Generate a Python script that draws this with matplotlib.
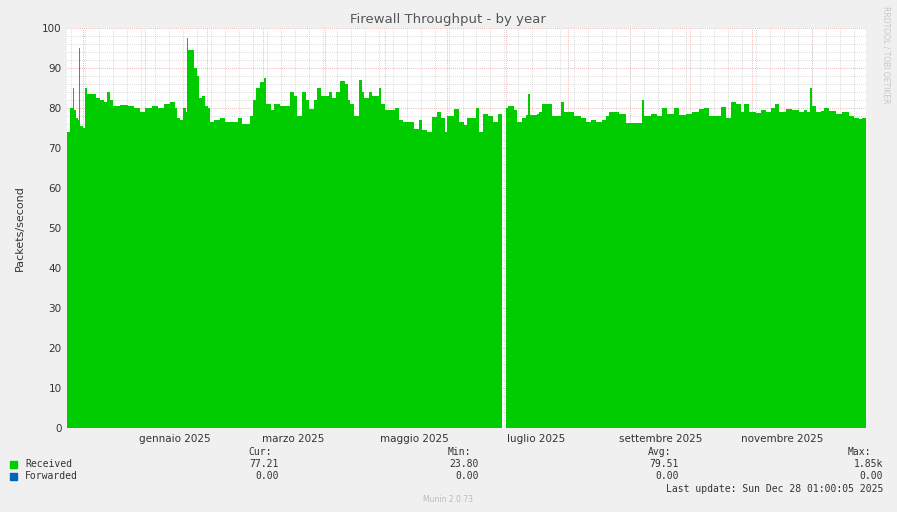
import numpy as np
import matplotlib
matplotlib.use("Agg")
import matplotlib.pyplot as plt
import matplotlib.dates as mdates
from datetime import datetime, timedelta

# days since 2024-11-23 and received packets/second
start = datetime(2024, 11, 23)
days = [0, 1.5, 3, 3.5, 4.5, 5.5, 6, 6.5, 8, 9, 10, 12.5, 14.5, 16.5, 18.5, 20, 21.5, 23, 26.5, 30.5,
        33.5, 36.5, 39, 42.5, 45.5, 48.5, 51.5, 54, 55, 56.5, 58, 59.5, 60, 60.5, 62.5, 63.5, 65, 66, 67.5, 69,
        70.5, 71.5, 73.5, 76.5, 79, 82.5, 85.5, 87.5, 90, 91.5, 93, 94.5, 96.5, 98.5, 99.5, 102, 103.5, 106.5, 110, 111.5,
        113.5, 115, 117.5, 119.5, 121, 123.5, 125, 127, 129.5, 131, 132.5, 134.5, 136.5, 139, 140.5, 141.5, 143.5, 146, 147.5, 148.5,
        151, 152.5, 153.5, 156, 157, 159, 164, 166, 168, 171.5, 173.5, 176, 177.5, 180, 182.5, 185, 187, 189, 190, 193.5,
        196, 198.5, 200, 204, 205, 206.5, 208.5, 211, 213.5, 216, 218, 218.5, 220, 221, 222.5, 224, 225.5, 228, 230, 231,
        232, 235.5, 236.5, 238, 241.5, 243, 246.5, 247.5, 249, 251.5, 254, 257.5, 260, 262.5, 265, 268, 270, 271.5, 274, 276.5,
        280, 285.5, 288, 289, 292.5, 295.5, 298, 300.5, 304, 306.5, 310, 313, 316.5, 319, 321.5, 325, 327.5, 327.5, 330, 332.5,
        335, 337.5, 339, 341.5, 345, 347.5, 350, 352.5, 354.5, 356.5, 360, 363, 366.5, 369, 370.5, 372, 373, 375, 377.5, 379,
        381.5, 385, 388, 391.5, 394, 396.5, 398, 399.5]
received = [74, 80, 85, 79.5, 77.5, 77, 95, 75.5, 75, 85, 83.5, 83.5, 82.5, 82, 81.5, 84, 82, 80.5, 80.7, 80.5,
            80, 79, 80, 80.5, 80, 81, 81.5, 80, 77.5, 77, 80, 79, 97.5, 94.5, 94.5, 90, 88, 82.5, 83, 80.5,
            80, 76.5, 77, 77.5, 76.5, 76.5, 77.5, 76, 76, 78, 82, 85, 86.5, 87.5, 81, 79.5, 81, 80.5, 80.5, 84,
            83, 78, 84, 82, 79.7, 82, 85, 83, 83, 84, 82.5, 84, 86.7, 86, 82, 81, 78, 87, 84, 82.5,
            84, 83, 83, 85, 81, 79.5, 80, 77, 76.5, 76.5, 74.7, 77, 74.5, 74, 77.7, 79, 77.5, 74, 78, 79.7,
            76.5, 75.7, 77.5, 77.5, 80, 74, 78.5, 78, 76.5, 78.5, 78.5, np.nan, 80, 80.5, 80.5, 79.5, 76.5, 77.5, 78.3, 83.5,
            78.3, 78.5, 79, 81, 81, 78, 78, 81.5, 79, 79, 78, 77.5, 76.5, 77, 76.5, 77, 78, 79, 79, 78.5,
            76.3, 76.3, 82, 78, 78.5, 78, 80, 78.5, 80, 78.3, 78.5, 79, 79.7, 80, 78, 78, 78.5, 80.2, 77.5, 81.5,
            81, 79, 81, 79, 78.7, 79.5, 79, 80, 81, 79, 79.7, 79.5, 79, 79.5, 79, 85, 80.5, 79, 79.3, 80,
            79.3, 78.5, 79, 78, 77.5, 77.2, 77.5, 77.5]

yticks = list(range(0, 101, 10))
month_labels = ["gennaio 2025", "marzo 2025", "maggio 2025", "luglio 2025", "settembre 2025", "novembre 2025"]
label_dates = [datetime(2025, 1, 16), datetime(2025, 3, 16), datetime(2025, 5, 16),
               datetime(2025, 7, 16), datetime(2025, 9, 16), datetime(2025, 11, 16)]

dates = [start + timedelta(days=d) for d in days]
end = start + timedelta(days=400)
dates_ext = dates + [end]
vals = np.ma.masked_invalid(np.array(received + [received[-1]], dtype=float))

fig = plt.figure(figsize=(8.97, 5.12), dpi=100, facecolor="#F0F0F0")
ax = fig.add_axes([67/897, 84/512, 799/897, 400/512])
ax.set_facecolor("white")
ax.fill_between(mdates.date2num(dates_ext), 0, vals, step="post", color="#00CC00", linewidth=0)

ax.set_xlim(start, end)
ax.set_ylim(0, 100)

# grid
for m in range(0, 14):
    d = datetime(2024 + (11 + m) // 12, (11 + m) % 12 + 1, 1)
    if start < d < end:
        ax.axvline(d, color="#E8A0A0", lw=0.6, ls=(0, (1, 1.5)), zorder=0)
wk = datetime(2024, 11, 25)
while wk < end:
    ax.axvline(wk, color="#CCCCCC", lw=0.6, ls=(0, (1, 1.5)), zorder=0)
    wk += timedelta(days=7)
for y in range(2, 101, 2):
    c = "#E8A0A0" if y % 10 == 0 else "#CCCCCC"
    ax.axhline(y, color=c, lw=0.6, ls=(0, (1, 1.5)), zorder=0)

ax.set_yticks(yticks)
ax.set_yticklabels([str(v) for v in yticks])
ax.set_xticks(mdates.date2num(label_dates))
ax.set_xticklabels(month_labels)
ax.tick_params(axis="both", length=0, labelsize=7.5, colors="#333333", pad=4)
for s in ax.spines.values():
    s.set_visible(False)

ax.set_ylabel("Packets/second", fontsize=8, color="#333333", labelpad=12)

fig.text(448/897, 1 - 19/512, "Firewall Throughput - by year", ha="center", va="center", fontsize=9.5, color="#555555")
fig.text(886/897, 1 - 55/512, "RRDTOOL / TOBI OETIKER", rotation=270, ha="center", va="center", fontsize=5.5, color="#C8C8C8")

mono = dict(family="DejaVu Sans Mono", fontsize=7, color="#333333")
for xr, head in [(272, "Cur:"), (471, "Min:"), (671, "Avg:"), (871, "Max:")]:
    fig.text(xr/897, 1 - 452/512, head, ha="right", va="center", **mono)
for xr, cur, mn, avg, mx, yy in [(279, "77.21", "23.80", "79.51", "1.85k", 464), (279, "0.00", "0.00", "0.00", "0.00", 476)]:
    fig.text(279/897, 1 - yy/512, cur, ha="right", va="center", **mono)
    fig.text(479/897, 1 - yy/512, mn, ha="right", va="center", **mono)
    fig.text(679/897, 1 - yy/512, avg, ha="right", va="center", **mono)
    fig.text(883/897, 1 - yy/512, mx, ha="right", va="center", **mono)
fig.patches.append(plt.Rectangle((10/897, 1 - 468/512), 7/897, 7/512, transform=fig.transFigure, color="#00CC00"))
fig.patches.append(plt.Rectangle((10/897, 1 - 480/512), 7/897, 7/512, transform=fig.transFigure, color="#0066B3"))
fig.text(25/897, 1 - 464/512, "Received", ha="left", va="center", **mono)
fig.text(25/897, 1 - 476/512, "Forwarded", ha="left", va="center", **mono)
fig.text(883/897, 1 - 489/512, "Last update: Sun Dec 28 01:00:05 2025", ha="right", va="center", **mono)
fig.text(448/897, 1 - 500/512, "Munin 2.0.73", ha="center", va="center", fontsize=5.5, color="#BBBBBB")

fig.savefig("out.png", dpi=100, facecolor=fig.get_facecolor())
